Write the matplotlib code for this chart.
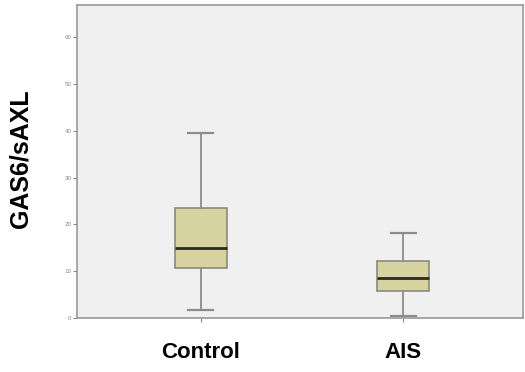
import matplotlib
matplotlib.use('Agg')
import matplotlib.pyplot as plt

# Box statistics
groups = ['Control', 'AIS']
whisker_low = [1.7, 0.4]
q1 = [10.8, 5.8]
median = [14.9, 8.6]
q3 = [23.6, 12.2]
whisker_high = [39.5, 18.1]
yticks = [0, 10, 20, 30, 40, 50, 60]

plt.rcParams['font.family'] = ['Liberation Sans', 'DejaVu Sans']

fig = plt.figure(figsize=(5.25, 3.72), dpi=100)
ax = fig.add_axes([0.1467, 0.145, 0.849, 0.8416], facecolor='#f0f0f0')

stats = []
for i in range(len(groups)):
    stats.append({'label': groups[i], 'whislo': whisker_low[i], 'q1': q1[i], 'med': median[i],
                  'q3': q3[i], 'whishi': whisker_high[i], 'fliers': []})

ax.bxp(stats, positions=[1, 2], widths=0.256, patch_artist=True, showfliers=False,
       boxprops=dict(facecolor='#d6d3a0', edgecolor='#8a8a80', linewidth=1.2),
       medianprops=dict(color='#2a2a22', linewidth=2),
       whiskerprops=dict(color='#8c8c8c', linewidth=1.3),
       capprops=dict(color='#8c8c8c', linewidth=1.6),
       capwidths=0.125)

ax.set_xlim(0.39, 2.59)
ax.set_ylim(0, 66.9)
ax.set_yticks(yticks)
ax.set_yticklabels([str(v) for v in yticks], fontsize=4.5, color='#888888')
ax.tick_params(axis='y', length=3, color='#888888', width=0.8, pad=1)
ax.tick_params(axis='x', length=3, color='#888888', width=0.8, pad=14)
ax.set_xticks([1, 2])
ax.set_xticklabels(groups, fontsize=16, fontweight='bold')
ax.set_ylabel('GAS6/sAXL', fontsize=18, fontweight='bold')
ax.yaxis.set_label_coords(-0.099, 0.51)

for s in ax.spines.values():
    s.set_color('#999999')
    s.set_linewidth(1.2)

fig.savefig('out.png', dpi=100)
